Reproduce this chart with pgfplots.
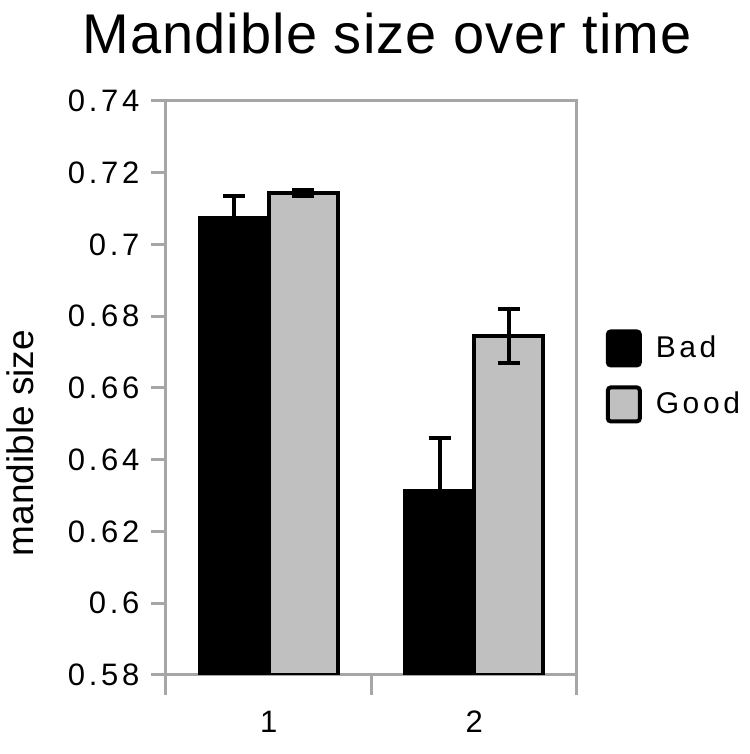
\documentclass[border=0pt]{standalone}
\usepackage{fontspec}
\setmainfont{Liberation Sans}
\newfontfamily\spaced[LetterSpace=12]{Liberation Sans}
\newfontfamily\titlefont[LetterSpace=2]{Liberation Sans}
\usepackage{pgfplots}
\pgfplotsset{compat=1.18}
\definecolor{axisgray}{HTML}{A6A6A6}
\definecolor{goodgray}{HTML}{C0C0C0}
\pgfplotsset{
    ybar legend/.style={legend image code/.code={%
        \draw[##1, line width=2bp, rounded corners=1.5bp] (0bp,-8.5bp) rectangle (16bp,8.5bp);}},
}

\begin{document}
\begin{tikzpicture}
\begin{axis}[
    scale only axis,
    width=205.5bp, height=287bp,
    xmin=0.5, xmax=2.5,
    ymin=0.58, ymax=0.74,
    ytick={0.58,0.60,0.62,0.64,0.66,0.68,0.70,0.72,0.74},
    yticklabels={0.58,0.6,0.62,0.64,0.66,0.68,0.7,0.72,0.74},
    xtick={0.5,1.5,2.5}, xticklabels={,,},
    extra x ticks={1,2}, extra x tick labels={1,2},
    extra x tick style={tick style={draw=none}},
    tick align=outside,
    ytick pos=left, xtick pos=bottom,
    y tick style={/pgfplots/major tick length=7.5bp},
    x tick style={/pgfplots/major tick length=10bp},
    every tick/.style={axisgray, line width=1.5bp},
    axis line style={axisgray, line width=1.5bp},
    /pgf/number format/assume math mode=true,
    ticklabel style={font=\spaced\fontsize{15.5bp}{18bp}\selectfont},
    xticklabel style={yshift=-10.5bp},
    yticklabel style={xshift=-5.5bp},
    ylabel={mandible size},
    ylabel style={at={(rel axis cs:-0.355,0.404)}, anchor=center, font=\fontsize{18.5bp}{22bp}\selectfont},
    title={Mandible size over time},
    title style={at={(0.538,1.062)}, anchor=base, font=\titlefont\fontsize{28bp}{32bp}\selectfont},
    ybar=0pt, bar width=34.5bp,
    legend style={at={(1.055,0.52)}, anchor=west, draw=none, fill=none,
        font=\spaced\fontsize{15bp}{18bp}\selectfont, row sep=9bp, column sep=5bp,
        legend cell align=left},
    error bars/error bar style={black, line width=2bp},
    error bars/error mark=-,
    error bars/error mark options={rotate=90, black, line width=2bp, mark size=5.5bp},
]
\addplot[fill=black, draw=black, line width=2bp,
    error bars/.cd, y dir=both, y explicit] coordinates {
    (1, 0.7073) +- (0, 0.0062)
    (2, 0.6313) +- (0, 0.0148)
};
\addlegendentry{Bad}
\addplot[fill=goodgray, draw=black, line width=2bp,
    error bars/.cd, y dir=both, y explicit] coordinates {
    (1, 0.7143) +- (0, 0.0008)
    (2, 0.6744) +- (0, 0.0075)
};
\addlegendentry{Good}
\coordinate (bbl) at (rel axis cs:-0.404,-0.138);
\coordinate (btr) at (rel axis cs:1.421,1.176);
\end{axis}
\pgfresetboundingbox
\path[use as bounding box] (bbl) rectangle (btr);
\end{tikzpicture}
\end{document}
